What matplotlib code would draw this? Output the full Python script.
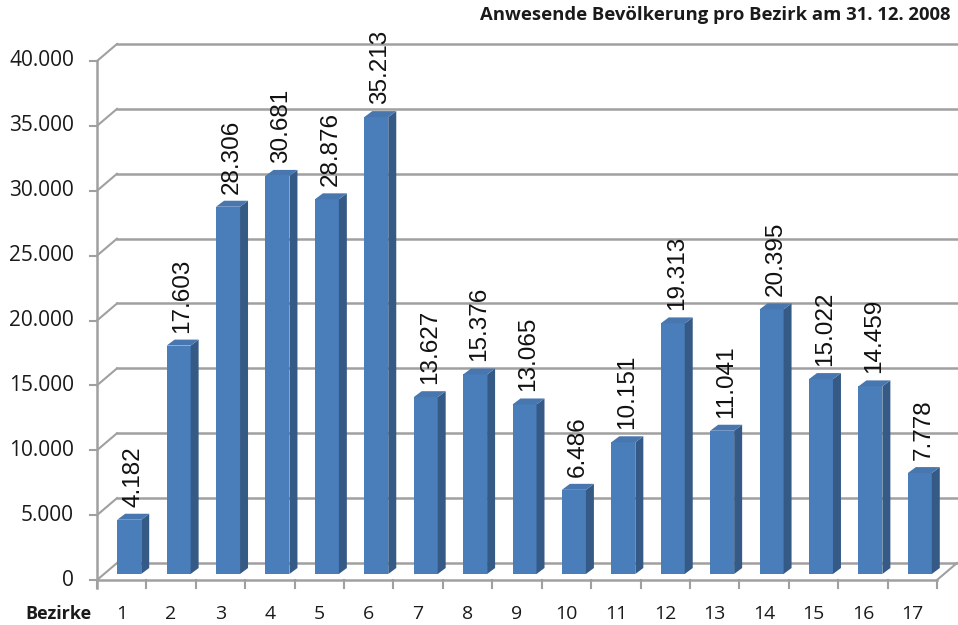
import matplotlib.pyplot as plt
from matplotlib.patches import Polygon

bezirke = list(range(1, 18))
einwohner = [4182, 17603, 28306, 30681, 28876, 35213, 13627, 15376, 13065,
             6486, 10151, 19313, 11041, 20395, 15022, 14459, 7778]
y_ticks = list(range(0, 40001, 5000))

W, H, DPI = 958, 625, 100
fig = plt.figure(figsize=(W / DPI, H / DPI), dpi=DPI)

# front plane of the chart in pixels
x0, x1, y_bot, y_top = 97, 937, 580, 61
ax = fig.add_axes([x0 / W, (H - y_bot) / H, (x1 - x0) / W, (y_bot - y_top) / H])
ax.set_xlim(0.5, 17.5)
ax.set_ylim(0, 40000)
ax.axis('off')

px_x = 17 / (x1 - x0)          # data units per pixel
px_y = 40000 / (y_bot - y_top)

wall_dx, wall_dy = 20 * px_x, 17 * px_y
grid_col = '#a0a0a0'

# back wall gridlines and left wall connectors
for v in y_ticks:
    ax.plot([0.5 + wall_dx, 17.5 + wall_dx], [v + wall_dy, v + wall_dy],
            color=grid_col, lw=1.8, clip_on=False, zorder=1)
    ax.plot([0.5, 0.5 + wall_dx], [v, v + wall_dy],
            color=grid_col, lw=1.5, clip_on=False, zorder=1)
    ax.plot([0.5 - 7 * px_x, 0.5], [v, v], color=grid_col, lw=1.5, clip_on=False)
    ax.text(0.5 - 23 * px_x, v, f"{v:,}".replace(',', '.'), ha='right', va='center',
            fontsize=15, family='Open Sans', color='#1a1a1a')

# floor front edge, right edge, vertical axis
ax.plot([0.5, 17.5], [0, 0], color=grid_col, lw=1.8, clip_on=False, zorder=1)
ax.plot([17.5, 17.5 + wall_dx], [0, wall_dy], color=grid_col, lw=1.5, clip_on=False, zorder=1)
ax.plot([0.5, 0.5], [-8 * px_y, 40000], color=grid_col, lw=1.8, clip_on=False, zorder=1)
for k in range(18):
    ax.plot([0.5 + k, 0.5 + k], [0, -8 * px_y], color=grid_col, lw=1.5, clip_on=False)

# bars
bw = 24 * px_x
shift_x, shift_y = 7.5 * px_x, 6 * px_y
depth_x, depth_y = 8 * px_x, 6 * px_y
front_c, side_c, top_c = '#4a7ebb', '#365a86', '#4877b0'

xs = [b + shift_x for b in bezirke]
ax.bar(xs, einwohner, width=bw, bottom=shift_y, color=front_c, zorder=3,
       clip_on=False)
for x, v in zip(xs, einwohner):
    r = x + bw / 2
    l = x - bw / 2
    t = v + shift_y
    ax.add_patch(Polygon([(r, shift_y), (r + depth_x, shift_y + depth_y),
                          (r + depth_x, t + depth_y), (r, t)],
                         closed=True, facecolor=side_c, edgecolor='none',
                         zorder=3, clip_on=False))
    ax.add_patch(Polygon([(l, t), (r, t), (r + depth_x, t + depth_y),
                          (l + depth_x, t + depth_y)],
                         closed=True, facecolor=top_c, edgecolor='none',
                         zorder=3, clip_on=False))
    ax.text(x + depth_x / 2, t + depth_y + 7 * px_y, f"{v:,}".replace(',', '.'),
            rotation=90, ha='center', va='bottom', fontsize=17.5,
            family='Liberation Sans', color='#111111', zorder=4)

# category labels
for b in bezirke:
    ax.text(b, -34 * px_y, str(b), ha='center', va='center', fontsize=14,
            family='Open Sans', color='#1a1a1a')
fig.text(25 / W, 1 - 614 / H, "Bezirke", ha='left', va='center', fontsize=13,
         fontweight='bold', family='Open Sans', color='#1a1a1a')

fig.text(950 / W, 1 - 15 / H, "Anwesende Bevölkerung pro Bezirk am 31. 12. 2008",
         ha='right', va='center', fontsize=13.3, fontweight='bold',
         family='Open Sans', color='#1a1a1a')

fig.savefig('out.png', dpi=DPI, facecolor='white')
